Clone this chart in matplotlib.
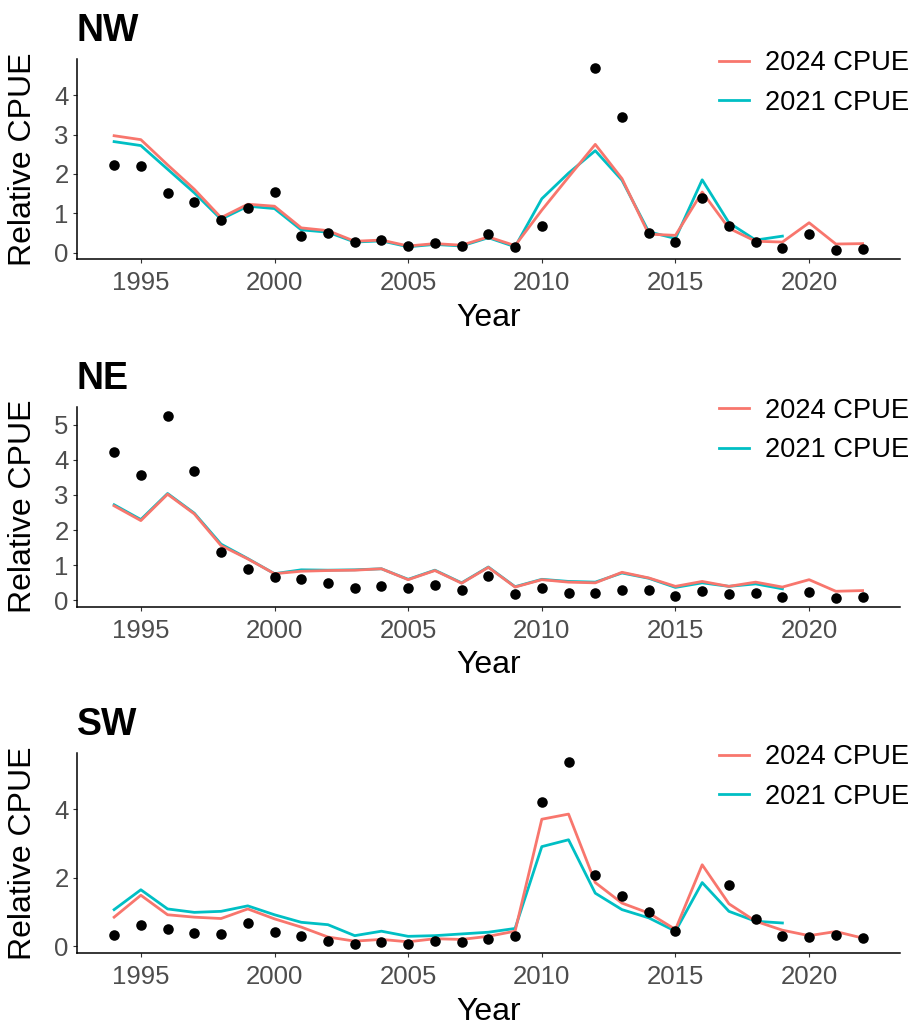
import numpy as np
import matplotlib
matplotlib.use('Agg')
import matplotlib.pyplot as plt

plt.rcParams['font.family'] = ['Liberation Sans', 'DejaVu Sans']

years = list(range(1994, 2023))
years_2021 = list(range(1994, 2020))
nan = np.nan

regions = ['NW', 'NE', 'SW']

nw_obs = [2.23, 2.20, 1.52, 1.29, 0.83, 1.14, 1.54, 0.42, 0.49, 0.27, 0.31, 0.16, 0.24, 0.16, 0.47,
          0.14, 0.67, nan, 4.68, 3.44, 0.51, 0.26, 1.38, 0.68, 0.27, 0.12, 0.48, 0.07, 0.09]
nw_2024 = [2.97, 2.87, 2.23, 1.61, 0.89, 1.23, 1.18, 0.63, 0.56, 0.29, 0.32, 0.17, 0.23, 0.19, 0.40,
           0.18, 1.08, 1.92, 2.75, 1.88, 0.47, 0.44, 1.54, 0.62, 0.29, 0.27, 0.76, 0.22, 0.23]
nw_2021 = [2.82, 2.72, 2.12, 1.52, 0.85, 1.18, 1.12, 0.58, 0.52, 0.27, 0.30, 0.15, 0.21, 0.17, 0.38,
           0.15, 1.37, 2.02, 2.59, 1.84, 0.53, 0.36, 1.85, 0.76, 0.32, 0.42]

ne_obs = [4.23, 3.57, 5.25, 3.69, 1.39, 0.89, 0.67, 0.62, 0.49, 0.36, 0.41, 0.35, 0.45, 0.31, 0.69,
          0.19, 0.35, 0.22, 0.21, 0.30, 0.30, 0.13, 0.26, 0.19, 0.21, 0.11, 0.24, 0.08, 0.09]
ne_2024 = [2.69, 2.27, 3.02, 2.46, 1.56, 1.18, 0.76, 0.83, 0.85, 0.86, 0.90, 0.59, 0.85, 0.49, 0.94,
           0.38, 0.59, 0.52, 0.50, 0.80, 0.64, 0.40, 0.54, 0.40, 0.52, 0.38, 0.59, 0.26, 0.28]
ne_2021 = [2.72, 2.30, 3.04, 2.48, 1.60, 1.19, 0.76, 0.87, 0.86, 0.87, 0.90, 0.60, 0.86, 0.50, 0.95,
           0.39, 0.60, 0.54, 0.52, 0.78, 0.63, 0.37, 0.50, 0.40, 0.47, 0.33]

sw_obs = [0.34, 0.61, 0.49, 0.39, 0.37, 0.68, 0.43, 0.29, 0.14, 0.08, 0.11, 0.06, 0.16, 0.11, 0.22,
          0.30, 4.22, 5.37, 2.07, 1.47, 1.01, 0.46, nan, 1.79, 0.80, 0.30, 0.26, 0.32, 0.23]
sw_2024 = [0.85, 1.49, 0.92, 0.85, 0.81, 1.09, 0.80, 0.56, 0.27, 0.15, 0.20, 0.13, 0.22, 0.20, 0.29,
           0.44, 3.71, 3.86, 1.86, 1.26, 0.97, 0.49, 2.38, 1.24, 0.73, 0.47, 0.31, 0.43, 0.24]
sw_2021 = [1.07, 1.65, 1.09, 0.99, 1.02, 1.18, 0.92, 0.70, 0.63, 0.31, 0.44, 0.29, 0.31, 0.36, 0.41,
           0.52, 2.91, 3.11, 1.55, 1.07, 0.83, 0.44, 1.86, 1.02, 0.73, 0.68]

y_ticks = {'NW': [0, 1, 2, 3, 4], 'NE': [0, 1, 2, 3, 4, 5], 'SW': [0, 2, 4]}
x_ticks = [1995, 2000, 2005, 2010, 2015, 2020]
labels = ['2024 CPUE', '2021 CPUE']

data = {'NW': (nw_obs, nw_2024, nw_2021),
        'NE': (ne_obs, ne_2024, ne_2021),
        'SW': (sw_obs, sw_2024, sw_2021)}

RED = '#F8766D'
CYAN = '#00BFC4'

W, H = 914, 1028
fig = plt.figure(figsize=(W / 100, H / 100), dpi=100)

# pixel layout: (top, bottom) of each panel
panel_px = {'NW': (59.3, 259.0), 'NE': (406.7, 606.7), 'SW': (753.3, 953.3)}
left_px, right_px = 76.7, 900.0

for reg in regions:
    obs, v24, v21 = data[reg]
    top, bot = panel_px[reg]
    ax = fig.add_axes([left_px / W, 1 - bot / H, (right_px - left_px) / W, (bot - top) / H])
    ax.plot(years, v24, color=RED, lw=2.0, label=labels[0], zorder=2)
    ax.plot(years_2021, v21, color=CYAN, lw=2.0, label=labels[1], zorder=1)
    ax.plot(years, obs, 'o', color='black', ms=7.6, mec='none', zorder=3)

    allv = np.array([v for v in list(obs) + list(v24) + list(v21) if not np.isnan(v)])
    lo, hi = allv.min(), allv.max()
    r = hi - lo
    ax.set_ylim(lo - 0.05 * r, hi + 0.05 * r)
    xr = years[-1] - years[0]
    ax.set_xlim(years[0] - 0.05 * xr, years[-1] + 0.05 * xr)

    ax.set_xticks(x_ticks)
    ax.set_yticks(y_ticks[reg])
    for s in ['top', 'right']:
        ax.spines[s].set_visible(False)
    for s in ['left', 'bottom']:
        ax.spines[s].set_linewidth(1.1)
        ax.spines[s].set_color('black')
    ax.tick_params(axis='both', colors='#333333', length=3.2, width=0.8,
                   labelsize=18.5, labelcolor='#4d4d4d')
    ax.tick_params(axis='x', pad=5.5)
    ax.tick_params(axis='y', pad=2.5)
    ax.set_xlabel('Year', fontsize=23, color='black', labelpad=5.5)
    ax.set_ylabel('Relative CPUE', fontsize=23, color='black', va='center')
    ax.yaxis.set_label_coords(-(left_px - 23) / (right_px - left_px), 0.5)
    ax.set_title(reg, loc='left', fontweight='bold', fontsize=27, pad=13)

    leg_top = (top - 9) / H
    ax.legend(loc='upper right', bbox_to_anchor=(909 / W, 1 - leg_top),
              bbox_transform=fig.transFigure, frameon=False, fontsize=19.6,
              handlelength=1.1, handletextpad=0.6, labelspacing=0.5,
              borderpad=0, borderaxespad=0)

fig.savefig('out.png', dpi=100)
